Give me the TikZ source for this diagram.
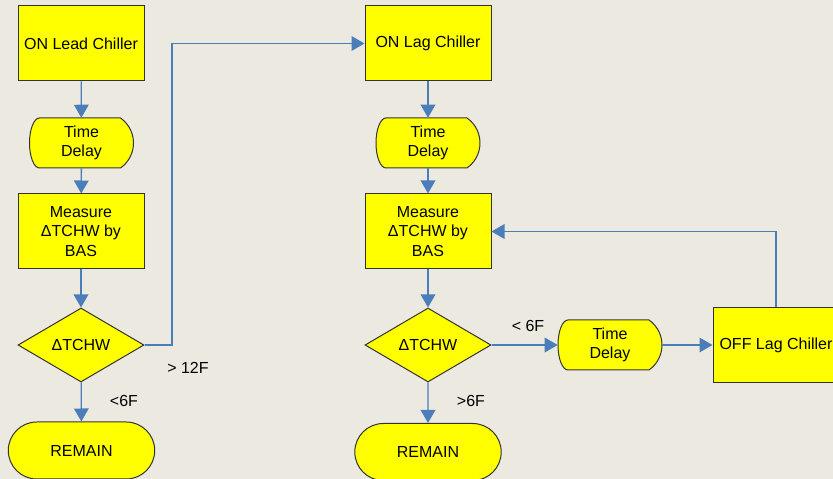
\documentclass[tikz,border=0pt]{standalone}
\usepackage{fontspec}
\setmainfont{Liberation Sans}
\usepackage{xcolor}
\definecolor{PAGEcolor}{HTML}{ECE9E0}
\definecolor{BOXcolor}{HTML}{FFFF00}
\definecolor{LINEcolor}{HTML}{4A7EBB}
\usetikzlibrary{shapes.geometric, shapes.misc, arrows.meta}

\begin{document}
\begin{tikzpicture}[x=0.75pt, y=0.75pt,
        font=\fontsize{12pt}{14.5pt}\selectfont,
        outline/.style={draw=black!80, line width=0.75pt, fill=BOXcolor},
        stepbox/.style={outline, rectangle, minimum width=94.5pt, minimum height=56.25pt, align=center, inner sep=2pt},
        decision/.style={outline, diamond, aspect=1.7, minimum width=94.5pt, minimum height=55.5pt, inner sep=0pt},
        terminal/.style={outline, rounded rectangle, minimum width=116.5pt, minimum height=42.75pt},
        flow/.style={LINEcolor, line width=1pt, -{Triangle[length=9.75pt, width=11pt]}},
        branch/.style={inner sep=0pt}
    ]
    \tikzset{%
        pics/timedelay/.style={code={%
                        % flat top and bottom, elliptic left end, circular right end
                        \filldraw [outline] (-42, 25) -- (39, 25)
                            arc [start angle=55, end angle=-55, radius=30.5]
                            -- (-42, -25)
                            arc [start angle=270, end angle=90, x radius=10, y radius=25]
                            -- cycle;
                        \node [minimum width=78pt, minimum height=37.5pt, inner sep=0pt, align=center] (-box) at (0, 0) {#1};
                    }
            }
    }

    \fill [PAGEcolor] (0, 0) rectangle (833, 479);
    \useasboundingbox (0, 0) rectangle (833, 479);

    % lead chiller column
    \node [stepbox] (lead) at (81, 435.5) {ON Lead Chiller};
    \pic (dlyA) at (81.5, 336) {timedelay={Time\\Delay}};
    \node [stepbox] (measA) at (81, 247.5) {Measure\\ΔTCHW by\\BAS};
    \node [decision] (diaA) at (81, 134) {ΔTCHW};
    \node [terminal] (remA) at (81.5, 28.5) {REMAIN};

    % lag chiller column
    \node [stepbox] (lag) at (428, 435.5) {ON Lag Chiller};
    \pic (dlyB) at (428, 336) {timedelay={Time\\Delay}};
    \node [stepbox] (measB) at (428, 247.5) {Measure\\ΔTCHW by\\BAS};
    \node [decision] (diaB) at (428, 134) {ΔTCHW};
    \node [terminal] (remB) at (428, 27) {REMAIN};
    \pic (dlyC) at (610, 134) {timedelay={Time\\Delay}};
    \node [stepbox] (off) at (776, 134) {OFF Lag Chiller};

    \coordinate (turn) at (172, 435.5);

    \draw [flow] (lead) -- (dlyA-box);
    \draw [flow] (dlyA-box) -- (measA);
    \draw [flow] (measA) -- (diaA);
    \draw [flow] (diaA) -- (remA);
    \draw [flow] (diaA.east) -| (turn) -- (lag.west);

    \draw [flow] (lag) -- (dlyB-box);
    \draw [flow] (dlyB-box) -- (measB);
    \draw [flow] (measB) -- (diaB);
    \draw [flow] (diaB) -- (remB);
    \draw [flow] (diaB.east) -- (dlyC-box.west);
    \draw [flow] (dlyC-box.east) -- (off.west);
    \draw [flow] (off.north) |- (measB.east);

    \node [branch] (hiA) at (188, 111) {> 12F};
    \node [branch] (loA) at (124, 78) {<6F};
    \node [branch] (loB) at (528, 153) {< 6F};
    \node [branch] (hiB) at (471, 78) {>6F};
\end{tikzpicture}
\end{document}
